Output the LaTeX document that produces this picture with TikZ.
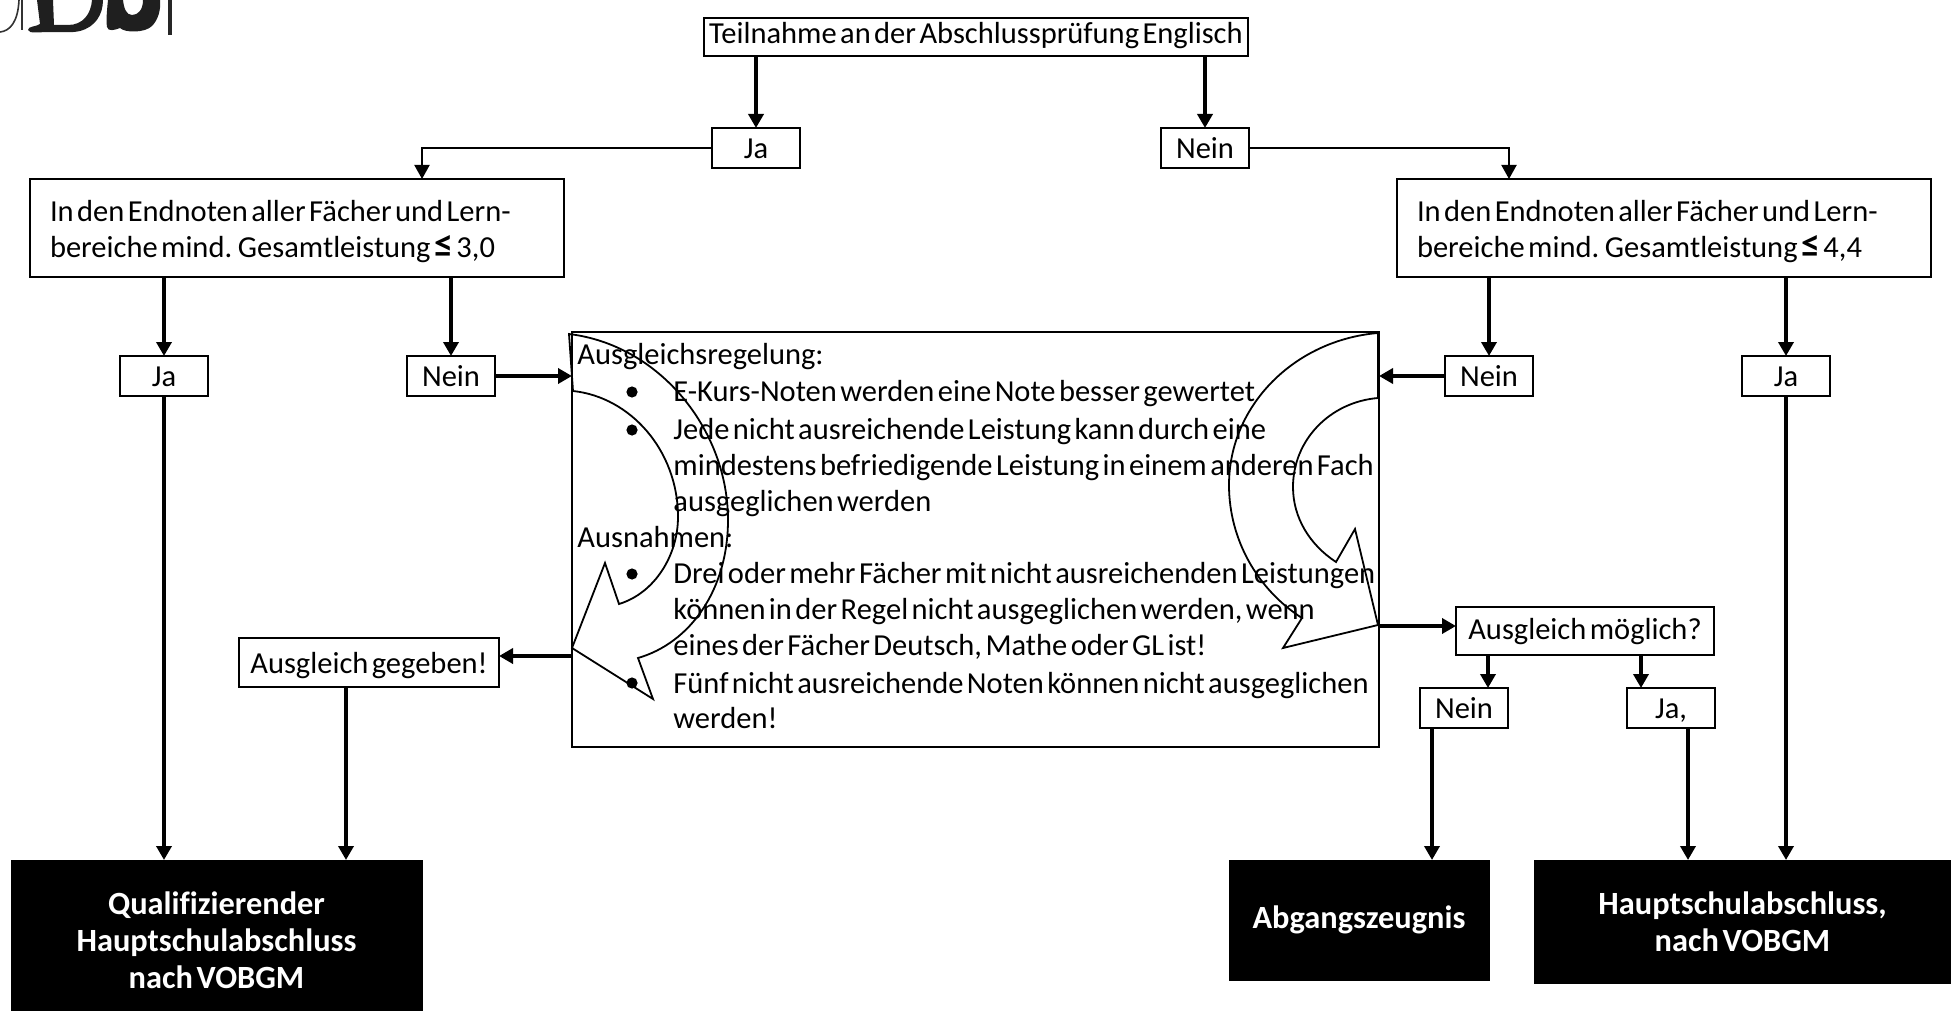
\documentclass[tikz,border=0pt]{standalone}
\usepackage{fontspec}
\setmainfont[WordSpace=0.5,Ligatures=NoCommon]{Carlito}
\usetikzlibrary{arrows.meta}
\tikzset{
  st/.style 2 args={execute at begin node={\rule[-#1pt]{0pt}{#2pt}}},
  boxn/.style={draw=black,line width=1pt,fill=white,inner sep=0pt,outer sep=0pt,align=center,font=\fontsize{15.25}{18}\selectfont},
  bigbox/.style={boxn,minimum width=267pt,minimum height=48.5pt,align=flush left,text width=247pt,st={0}{14.5}},
  smallbox/.style={boxn,minimum width=44pt,minimum height=20pt,st={3}{16.5}},
  resbox/.style={draw=black,fill=black,text=white,inner sep=0pt,outer sep=0pt,align=center,font=\fontsize{16.2}{18.6}\selectfont\bfseries},
  arr/.style={line width=2pt,-{Triangle[length=7pt,width=7.5pt]}},
  thinarr/.style={line width=1pt,-{Triangle[length=7pt,width=7.5pt]}},
  txt/.style={anchor=base west,inner sep=0pt,font=\fontsize{15.25}{18}\selectfont},
  curve/.style={line width=.9pt,draw=black}
}
\newcommand{\leqsym}{{\bfseries\fontsize{19}{18}\selectfont ≤}}
\begin{document}
\begin{tikzpicture}[x=0.5pt,y=-0.5pt]
\useasboundingbox (0,0) rectangle (1951,1011);
% logo
\fill[black!88] (37,0) -- (40,24) .. controls (36,27) and (28,26) .. (28,30) .. controls (29,34) and (40,32) .. (48,32) .. controls (60,32) and (72,33) .. (80,31) .. controls (95,27) and (103,15) .. (103,0) -- (92,0) .. controls (91,14) and (83,25) .. (68,25) -- (54,25) -- (53,0) -- cycle;
\fill[black!88] (108,0) .. controls (107,10) and (106,20) .. (107,27) .. controls (108,32) and (115,30) .. (120,28) .. controls (125,33) and (145,33) .. (152,26) .. controls (158,20) and (161,10) .. (160,0) -- (143,0) .. controls (143,10) and (138,15) .. (132,15) .. controls (126,15) and (124,8) .. (123,0) -- cycle;
\draw[line width=.8pt,black!80] (0,32) .. controls (10,31) and (18,22) .. (19,0);
\draw[line width=1pt,black!80] (22,0) -- (22,30);
\draw[line width=2pt,black!85] (169.5,0) -- (169.5,35);
% nodes
\node[boxn,minimum width=272pt,minimum height=19pt,st={4.5}{14}] (top) at (976,37) {Teilnahme an der Abschlussprüfung Englisch};
\node[smallbox] (jat) at (756,148) {Ja};
\node[smallbox] (neint) at (1205,148) {Nein};
\node[bigbox] (bigl) at (297,228) {In den Endnoten aller Fächer und Lern-\\bereiche mind. Gesamtleistung \leqsym{} 3,0};
\node[bigbox] (bigr) at (1664,228) {In den Endnoten aller Fächer und Lern-\\bereiche mind. Gesamtleistung \leqsym{} 4,4};
\node[smallbox] (jal) at (164,376) {Ja};
\node[smallbox] (neinl) at (451,376) {Nein};
\node[smallbox] (neinr) at (1489,376) {Nein};
\node[smallbox] (jar) at (1786,376) {Ja};
\node[draw=black,line width=1pt,minimum width=403.5pt,minimum height=207.5pt,inner sep=0pt,outer sep=0pt] (main) at (975.5,539.5) {};
\node[boxn,minimum width=129pt,minimum height=24pt,st={4}{16.3}] (ausm) at (1585,631) {Ausgleich möglich?};
\node[boxn,minimum width=130pt,minimum height=24.5pt,st={2}{16.5}] (ausg) at (369,662) {Ausgleich gegeben!};
\node[smallbox] (neinb) at (1464,708) {Nein};
\node[smallbox] (jab) at (1671,708) {Ja,};
\node[resbox,minimum width=205.5pt,minimum height=75.5pt] (qual) at (216.5,935.5) {\rule{0pt}{16pt}Qualifizierender\\Hauptschulabschluss\\nach VOBGM};
\node[resbox,minimum width=130pt,minimum height=60pt] (abg) at (1359,920) {Abgangszeugnis};
\node[resbox,minimum width=208.5pt,minimum height=61.5pt] (haupt) at (1742.5,921.5) {Hauptschulabschluss,\\nach VOBGM};
% main text
\node[txt] (t1) at (577,364) {Ausgleichsregelung:};
\node[txt] (t2) at (673,401) {E-Kurs-Noten werden eine Note besser gewertet};
\node[txt] (t3) at (673,439) {Jede nicht ausreichende Leistung kann durch eine};
\node[txt] (t4) at (673,475) {mindestens befriedigende Leistung in einem anderen Fach};
\node[txt] (t5) at (673,511) {ausgeglichen werden};
\node[txt] (t6) at (577,547) {Ausnahmen:};
\node[txt] (t7) at (673,583) {Drei oder mehr Fächer mit nicht ausreichenden Leistungen};
\node[txt] (t8) at (673,619) {können in der Regel nicht ausgeglichen werden, wenn};
\node[txt] (t9) at (673,655) {eines der Fächer Deutsch, Mathe oder GL ist!};
\node[txt] (t10) at (673,693) {Fünf nicht ausreichende Noten können nicht ausgeglichen};
\node[txt] (t11) at (673,728) {werden!};
\foreach \by in {392,430,574,683} \fill (632,\by) circle (2.8pt);
% curved arrows
\draw[curve] (569,334) .. controls (660,345) and (728,430) .. (728,520) .. controls (728,590) and (690,643) .. (638,658) -- (653,699) -- (572,648) -- (605,563) -- (619,604) .. controls (655,593) and (678,555) .. (678,517) .. controls (678,450) and (630,397) .. (573,391) -- cycle;
\draw[curve] (1378,333) .. controls (1295,340) and (1229,405) .. (1229,485) .. controls (1229,540) and (1258,590) .. (1302,618) -- (1283,648) -- (1378,625) -- (1355,529) -- (1336,562) .. controls (1310,545) and (1293,518) .. (1293,487) .. controls (1293,440) and (1330,402) .. (1378,398) -- cycle;
% connectors
\coordinate (kl) at (422,179);
\coordinate (kr) at (1509,179);
\coordinate (pg) at (499,656);
\coordinate (pm) at (1456,626);
\coordinate (am1) at (1488,655);
\coordinate (am2) at (1641,655);
\coordinate (ag) at (346,687);
\coordinate (nb) at (1432,728);
\coordinate (jb) at (1688,729);
\draw[arr] (top.south -| jat.north) -- (jat.north);
\draw[arr] (top.south -| neint.north) -- (neint.north);
\draw[thinarr] (jat.west) -| (kl);
\draw[thinarr] (neint.east) -| (kr);
\draw[arr] (jal.north |- bigl.south) -- (jal.north);
\draw[arr] (neinl.north |- bigl.south) -- (neinl.north);
\draw[arr] (neinr.north |- bigr.south) -- (neinr.north);
\draw[arr] (jar.north |- bigr.south) -- (jar.north);
\draw[arr] (neinl.east) -- (neinl.east -| main.west);
\draw[arr] (neinr.west) -- (neinr.west -| main.east);
\draw[arr] (main.west |- pg) -- (pg);
\draw[arr] (main.east |- pm) -- (pm);
\draw[arr] (am1) -- (am1 |- neinb.north);
\draw[arr] (am2) -- (am2 |- jab.north);
\draw[arr] (jal.south) -- (jal.south |- qual.north);
\draw[arr] (ag) -- (ag |- qual.north);
\draw[arr] (nb) -- (nb |- abg.north);
\draw[arr] (jb) -- (jb |- haupt.north);
\draw[arr] (jar.south) -- (jar.south |- haupt.north);
\end{tikzpicture}
\end{document}
